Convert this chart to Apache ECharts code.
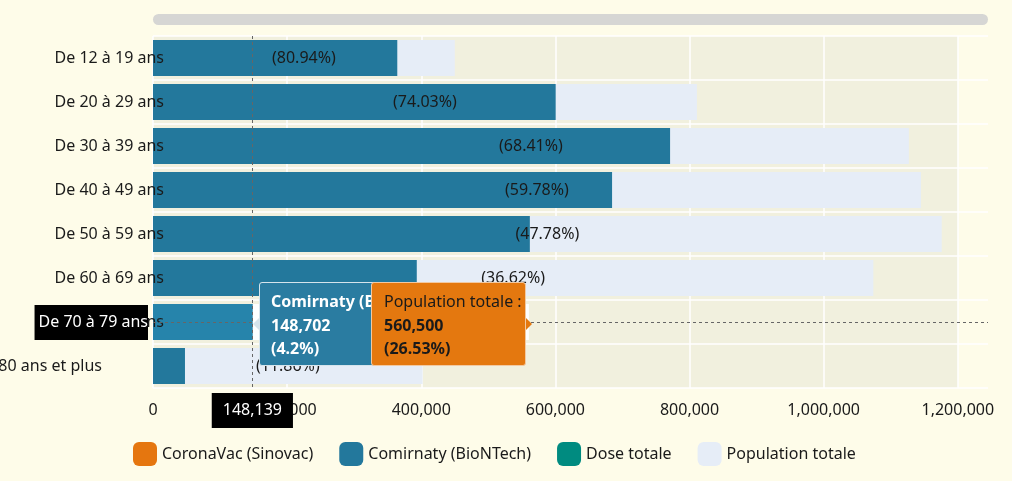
<!DOCTYPE html>
<html><head><meta charset="utf-8">
<script src="https://cdn.jsdelivr.net/npm/echarts@6/dist/echarts.min.js"></script>
<style>
html,body{margin:0;padding:0;background:#fefce9;}
#c{width:1012px;height:481px;}
</style>
</head><body><div id="c"></div>
<script>
// ---- data ----
const categories = ['De 12 à 19 ans','De 20 à 29 ans','De 30 à 39 ans','De 40 à 49 ans','De 50 à 59 ans','De 60 à 69 ans','De 70 à 79 ans','80 ans et plus'];
const comirnaty  = [364230, 600380, 770980, 684480, 561890, 393300, 148702, 47680];
const population = [450000, 811000, 1127000, 1145000, 1176000, 1074000, 560500, 402000];
const coronavac  = [];
const doseTotale = [];
const pctLabels  = ['(80.94%)','(74.03%)','(68.41%)','(59.78%)','(47.78%)','(36.62%)','(26.53%)','(11.86%)'];
const seriesNames = ['CoronaVac (Sinovac)','Comirnaty (BioNTech)','Dose totale','Population totale'];
const xTickMax = 1200000;
const xAxisMax = 1245000;
const xTickStep = 200000;
const pointerValue = 148139;
const pointerCategory = 'De 70 à 79 ans';
const tipComirnaty = ['Comirnaty (BioNTech)', '148,702', '(4.2%)'];
const tipPopulation = ['Population totale :', '560,500', '(26.53%)'];

const FONT = "'Noto Sans', 'Liberation Sans', sans-serif";
const fmt = v => Math.round(v).toLocaleString('en-US');

const chart = echarts.init(document.getElementById('c'), null, {renderer:'canvas'});

const tipHtml =
 '<div style="position:relative;width:280px;height:86px;font-family:Noto Sans,Liberation Sans,sans-serif;font-size:16px;line-height:23.5px;">' +
 '<div style="position:absolute;left:0;top:36px;width:0;height:0;border-top:6px solid transparent;border-bottom:6px solid transparent;border-right:6px solid #d5e4ec;"></div>' +
 '<div style="position:absolute;left:6px;top:0;width:122px;height:84px;box-sizing:border-box;background:#2a7ca1;border:1px solid #d5e4ec;border-radius:3px;color:#fff;font-weight:bold;padding:7px 11px;white-space:nowrap;overflow:hidden;">' +
   tipComirnaty[0]+'<br>'+tipComirnaty[1]+'<br>'+tipComirnaty[2]+'</div>' +
 '<div style="position:absolute;left:118px;top:0;width:155px;height:84px;box-sizing:border-box;background:#e4780f;border:1px solid #f2c9a2;border-radius:3px;color:#1a1a1a;padding:7px 12px;white-space:nowrap;">' +
   tipPopulation[0]+'<br><b>'+tipPopulation[1]+'</b><br><b>'+tipPopulation[2]+'</b></div>' +
 '<div style="position:absolute;left:273px;top:36px;width:0;height:0;border-top:6px solid transparent;border-bottom:6px solid transparent;border-left:6px solid #e4780f;"></div>' +
 '</div>';

const option = {
  animation: false,
  backgroundColor: '#fefce9',
  textStyle: {fontFamily: FONT},
  grid: {left: 153, top: 36, right: 24, bottom: 93, show: false, containLabel: false, outerBoundsMode: 'none'},
  legend: {
    left: 133, top: 442, padding: 0, itemWidth: 24, itemHeight: 24, itemGap: 26,
    icon: 'roundRect',
    data: seriesNames,
    textStyle: {fontSize: 16, color: '#1a1a1a', fontFamily: FONT}
  },
  tooltip: {
    trigger: 'axis',
    alwaysShowContent: true,
    transitionDuration: 0,
    backgroundColor: 'transparent', borderWidth: 0, padding: 0,
    extraCssText: 'box-shadow:none;',
    position: function(point){ return [point[0]+1, point[1]-40]; },
    formatter: function(){ return tipHtml; },
    axisPointer: {
      type: 'cross',
      crossStyle: {color: '#666', width: 1, type: [3,3]},
      lineStyle: {color: '#666', width: 1, type: [3,3]},
      label: {
        backgroundColor: '#000', color: '#fff', fontSize: 16, fontFamily: FONT, lineHeight: 17,
        padding: [9, 11], margin: 5, borderRadius: 0,
        formatter: function(p){ return typeof p.value === 'number' ? fmt(p.value) : p.value; }
      }
    }
  },
  xAxis: {
    type: 'value', min: 0, max: xAxisMax, interval: xTickStep,
    axisLine: {show: false}, axisTick: {show: false},
    splitLine: {show: true, showMaxLine: false, lineStyle: {color: '#ffffff', width: 1.5}},
    axisLabel: {fontSize: 16, color: '#1a1a1a', margin: 14, fontFamily: FONT, showMaxLabel: false,
                formatter: v => v > xTickMax ? '' : fmt(v)}
  },
  yAxis: {
    type: 'category', data: categories, inverse: true, z: 10,
    axisLine: {show: false}, axisTick: {show: false},
    splitLine: {show: true, lineStyle: {color: '#ffffff', width: 1.5}},
    axisPointer: {label: {padding: [9, 0, 9, 4]}},
    axisLabel: {
      fontSize: 16, color: '#1a1a1a', margin: -11, fontFamily: FONT,
      formatter: function(v, i){ return i === categories.length - 1 ? '{p|' + v + '}' : v; },
      rich: {p: {fontSize: 16, color: '#1a1a1a', fontFamily: FONT, padding: [0, 62, 0, 0]}}
    }
  },
  series: [
    {
      name: seriesNames[3], type: 'bar', data: population, barWidth: 36, barGap: '-100%',
      itemStyle: {color: '#e6edf7'},
      label: {show: true, position: 'inside', color: '#1a1a1a', fontSize: 16, fontFamily: FONT,
              formatter: p => pctLabels[p.dataIndex]}
    },
    {name: seriesNames[0], type: 'bar', data: coronavac, barWidth: 36, barGap: '-100%', itemStyle: {color: '#e5760f'}},
    {name: seriesNames[1], type: 'bar', data: comirnaty, barWidth: 36, barGap: '-100%', itemStyle: {color: '#23789c'}},
    {name: seriesNames[2], type: 'bar', data: doseTotale, barWidth: 36, barGap: '-100%', itemStyle: {color: '#008b80'}}
  ]
};
chart.setOption(option);

// plot background (0 .. last tick) and top scrollbar, placed from the axis scale
const x0 = chart.convertToPixel({xAxisIndex: 0}, 0);
const x1 = chart.convertToPixel({xAxisIndex: 0}, xTickMax);
const xEnd = chart.convertToPixel({xAxisIndex: 0}, xAxisMax);
const gridRect = chart.getModel().getComponent('grid').coordinateSystem.getRect();
chart.setOption({
  graphic: [
    {type: 'rect', z: -10, silent: true, shape: {x: x0, y: gridRect.y, width: x1 - x0, height: gridRect.height}, style: {fill: '#f1f0de'}},
    {type: 'rect', silent: true, shape: {x: x0, y: 14, width: xEnd - x0, height: 11, r: 5.5}, style: {fill: '#d6d6d4'}}
  ]
});

const px = chart.convertToPixel({xAxisIndex: 0}, pointerValue);
const py = chart.convertToPixel({yAxisIndex: 0}, pointerCategory);
chart.dispatchAction({type: 'showTip', x: px, y: py});
</script>
</body></html>
